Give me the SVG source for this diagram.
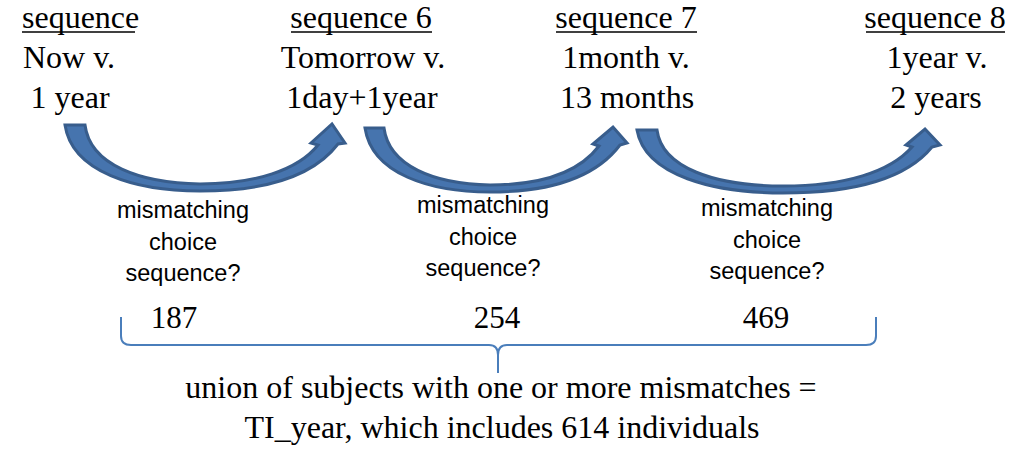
<svg xmlns="http://www.w3.org/2000/svg" width="1011" height="452" viewBox="0 0 1011 452">
  <style>
    .serif { font-family: "Liberation Serif", "Times New Roman", serif; font-size: 32px; fill: #000; }
    .num { font-size: 31px; }
    .sans { font-family: "Liberation Sans", Arial, sans-serif; font-size: 23.5px; fill: #000; }
    .mid { text-anchor: middle; }
    .ul { stroke: #000; stroke-width: 1.5; }
    .arrow { fill: #4674ae; stroke: #385d8c; stroke-width: 3; stroke-linejoin: miter; }
    .brace { fill: none; stroke: #4a7ebb; stroke-width: 2; }
  </style>
  <rect width="1011" height="452" fill="#fff"/>

  <!-- sequence headers -->
  <g id="seq-now">
    <text class="serif" x="22" y="28">sequence</text>
    <line class="ul" x1="22" y1="32" x2="135" y2="32"/>
    <text class="serif mid" x="69" y="68">Now v.</text>
    <text class="serif mid" x="70" y="108">1 year</text>
  </g>
  <g id="seq-6">
    <text class="serif mid" x="361" y="28">sequence 6</text>
    <line class="ul" x1="291" y1="32" x2="432" y2="32"/>
    <text class="serif mid" x="363" y="68">Tomorrow v.</text>
    <text class="serif mid" x="362" y="108">1day+1year</text>
  </g>
  <g id="seq-7">
    <text class="serif mid" x="626" y="28">sequence 7</text>
    <line class="ul" x1="556" y1="32" x2="697" y2="32"/>
    <text class="serif mid" x="626" y="68">1month v.</text>
    <text class="serif mid" x="627" y="108">13 months</text>
  </g>
  <g id="seq-8">
    <text class="serif mid" x="935" y="28">sequence 8</text>
    <line class="ul" x1="866" y1="32" x2="1005" y2="32"/>
    <text class="serif mid" x="937" y="68">1year v.</text>
    <text class="serif mid" x="936" y="108">2 years</text>
  </g>

  <!-- curved transition arrows -->
  <g id="connectors">
    <path class="arrow" d="M65,125 L85,125 C90,165 140,183 200,184 C255,184 298,170 318,145 L311,143 L332,124 L345,143 L338,144 C312,178 262,191 200,191 C135,191 72,172 65,125 Z"/>
    <path class="arrow" d="M365,128 L384,128 C389,166 434,184 490,185 C545,185 580,171 599,146 L593,144 L613,127 L627,143 L620,145 C595,178 550,192 490,192 C430,192 372,174 365,128 Z"/>
    <path class="arrow" d="M637,130 L657,130 C662,168 715,186 783,186 C845,186 890,172 912,147 L906,145 L925,129 L940,145 L932,147 C905,180 850,193 783,193 C715,193 645,176 637,130 Z"/>
    <path class="brace" d="M121,317 L121,336 Q121,345 131,345 L489,345 Q498,345 498,355 L498,373 M498,355 Q498,345 507,345 L866,345 Q876,345 876,336 L876,317"/>
  </g>

  <!-- mismatch counts -->
  <g id="mismatch-1">
    <text class="sans mid" x="183" y="218">mismatching</text>
    <text class="sans mid" x="183" y="250">choice</text>
    <text class="sans mid" x="183" y="281">sequence?</text>
    <text class="serif num mid" x="174" y="328">187</text>
  </g>
  <g id="mismatch-2">
    <text class="sans mid" x="483" y="213">mismatching</text>
    <text class="sans mid" x="483" y="245">choice</text>
    <text class="sans mid" x="483" y="276">sequence?</text>
    <text class="serif num mid" x="497" y="328">254</text>
  </g>
  <g id="mismatch-3">
    <text class="sans mid" x="767" y="216">mismatching</text>
    <text class="sans mid" x="767" y="248">choice</text>
    <text class="sans mid" x="767" y="279">sequence?</text>
    <text class="serif num mid" x="766" y="328">469</text>
  </g>

  <g id="summary">
    <text class="serif mid" x="501" y="398">union of subjects with one or more mismatches =</text>
    <text class="serif mid" x="502" y="438">TI_year, which includes 614 individuals</text>
  </g>
</svg>
